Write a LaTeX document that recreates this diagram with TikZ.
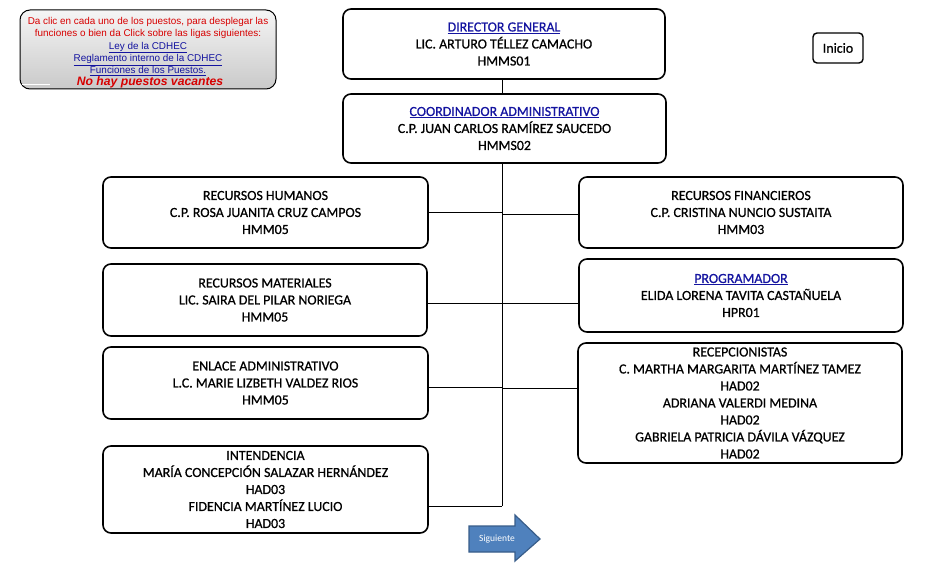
\documentclass[tikz,border=0pt]{standalone}
\usepackage{fontspec}
\setmainfont{Carlito}
\newfontfamily\orgf{Carlito}[FakeBold=0.7]
\newfontfamily\arialf{Liberation Sans}
\usetikzlibrary{calc}
\definecolor{linkblue}{RGB}{20,20,160}
\definecolor{infored}{RGB}{215,0,0}
\definecolor{arrowfill}{RGB}{79,129,189}
\definecolor{arrowline}{RGB}{56,93,138}
\tikzset{
  orgbox/.style={draw=black, line width=1.6pt, rounded corners=8pt, fill=white,
    align=center, inner sep=0pt, font=\orgf\fontsize{13.9}{17}\selectfont},
  conn/.style={draw=black, line width=1pt},
}
\newcommand{\lk}[1]{\textcolor{linkblue}{\underline{#1}}}
\begin{document}
\begin{tikzpicture}[x=1pt,y=-1pt]
\useasboundingbox (0,0) rectangle (936,567);
\fill[white] (0,0) rectangle (936,567);

% info box
\node[draw=black, line width=1pt, rounded corners=10pt, top color=gray!8, bottom color=gray!42,
  minimum width=256pt, minimum height=79pt, inner sep=0pt] (info) at (148,49.5) {};
\draw[white, line width=1pt] (22,85) -- (50,85);
\node[align=center, text=infored, font=\arialf\fontsize{9.9}{12.4}\selectfont, anchor=north] (infotxt) at (148,13.5)
 {Da clic en cada uno de los puestos, para desplegar las\\
  funciones o bien da Click sobre las ligas siguientes:\\
  \lk{Ley de la CDHEC}\\
  \lk{Reglamento interno de la CDHEC}\\
  \lk{Funciones de los Puestos.}};
\node[text=infored, font=\arialf\bfseries\itshape\fontsize{12.2}{12}\selectfont] (vac) at (150,82.5) {No hay puestos vacantes};

% boxes
\node[orgbox, minimum width=322pt, minimum height=70pt] (dir) at (504,44)
 {\lk{DIRECTOR GENERAL}\\LIC. ARTURO TÉLLEZ CAMACHO\\HMMS01};
\node[orgbox, line width=1.4pt, rounded corners=4pt, minimum width=50pt, minimum height=30pt] (ini) at (838,48) {Inicio};
\node[orgbox, minimum width=323pt, minimum height=69pt] (coord) at (504.5,128.5)
 {\lk{COORDINADOR ADMINISTRATIVO}\\C.P. JUAN CARLOS RAMÍREZ SAUCEDO\\HMMS02};

\node[orgbox, minimum width=325pt, minimum height=71pt] (rh) at (265.5,212.5)
 {RECURSOS HUMANOS\\C.P. ROSA JUANITA CRUZ CAMPOS\\HMM05};
\node[orgbox, minimum width=324pt, minimum height=72pt] (rm) at (265,300)
 {RECURSOS MATERIALES\\LIC. SAIRA DEL PILAR NORIEGA\\HMM05};
\node[orgbox, minimum width=325pt, minimum height=72pt] (enl) at (265.5,383)
 {ENLACE ADMINISTRATIVO\\L.C. MARIE LIZBETH VALDEZ RIOS\\HMM05};
\node[orgbox, minimum width=325pt, minimum height=87pt] (int) at (265.5,489.5)
 {INTENDENCIA\\MARÍA CONCEPCIÓN SALAZAR HERNÁNDEZ\\HAD03\\FIDENCIA MARTÍNEZ LUCIO\\HAD03};

\node[orgbox, minimum width=324pt, minimum height=71pt] (rf) at (741,212.5)
 {RECURSOS FINANCIEROS\\C.P. CRISTINA NUNCIO SUSTAITA\\HMM03};
\node[orgbox, minimum width=324pt, minimum height=73pt] (prog) at (741,295.5)
 {\lk{PROGRAMADOR}\\ELIDA LORENA TAVITA CASTAÑUELA\\HPR01};
\node[orgbox, minimum width=324pt, minimum height=120pt] (rec) at (740,403)
 {RECEPCIONISTAS\\C. MARTHA MARGARITA MARTÍNEZ TAMEZ\\HAD02\\ADRIANA VALERDI MEDINA\\HAD02\\GABRIELA PATRICIA DÁVILA VÁZQUEZ\\HAD02};

% connectors
\coordinate (sp1) at (502,79);
\coordinate (sb) at (502,506);
\coordinate (jrh) at (502,212);
\coordinate (jrm) at (502,303);
\coordinate (jen) at (502,387);
\coordinate (jrf) at (502,214);
\coordinate (jpr) at (502,303);
\coordinate (jre) at (502,388);
\draw[conn] (dir.south -| sp1) -- (coord.north -| sp1);
\draw[conn] (coord.south -| sp1) -- (sb);
\draw[conn] (jrh -| rh.east) -- (jrh);
\draw[conn] (jrm -| rm.east) -- (jrm);
\draw[conn] (jen -| enl.east) -- (jen);
\draw[conn] (sb -| int.east) -- (sb);
\draw[conn] (jrf) -- (jrf -| rf.west);
\draw[conn] (jpr) -- (jpr -| prog.west);
\draw[conn] (jre) -- (jre -| rec.west);

% Siguiente arrow
\draw[fill=arrowfill, draw=arrowline, line width=1.2pt, line join=miter]
  (469,526) -- (515,526) -- (515,515) -- (540,539) -- (515,561) -- (515,552) -- (469,552) -- cycle;
\node[text=white, font=\fontsize{9.5}{10}\selectfont] (sig) at (497,539) {Siguiente};
\end{tikzpicture}
\end{document}
